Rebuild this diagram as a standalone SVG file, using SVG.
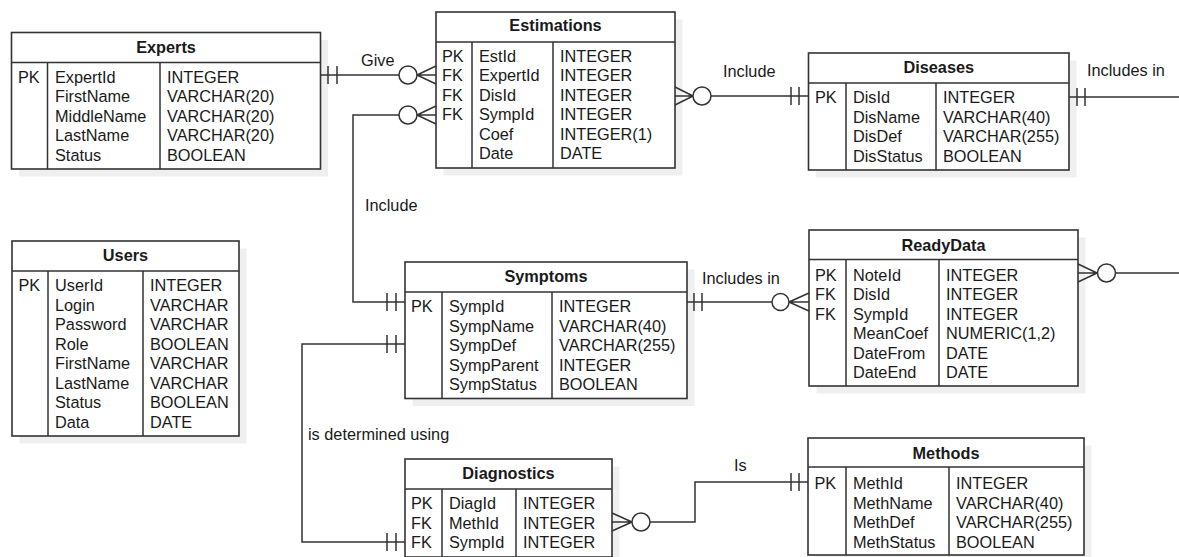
<svg xmlns="http://www.w3.org/2000/svg" width="1179" height="557" viewBox="0 0 1179 557">
<style>
  text { font-family: "Liberation Sans", Arial, sans-serif; font-size: 16.3px; fill: #1a1a1a; }
  .title { font-weight: bold; text-anchor: middle; }
  .shadow { fill: #efefef; stroke: none; }
  .box { fill: #ffffff; stroke: #333333; stroke-width: 1.6; }
  .ln { fill: none; stroke: #333333; stroke-width: 1.5; }
  .circ { fill: #ffffff; stroke: #333333; stroke-width: 1.5; }
</style>
<rect width="1179" height="557" fill="#ffffff"/>

<g id="experts">
  <rect class="shadow" x="19" y="40" width="309" height="136.5"/>
  <rect class="box" x="11.5" y="32.5" width="309" height="136.5"/>
  <path class="ln" d="M11.5,62.5 H320.5 M47.5,62.5 V169 M160,62.5 V169"/>
  <text class="title" x="166" y="52.5">Experts</text>
  <text x="18" y="82.5">PK</text>
  <text x="55" y="82.5">ExpertId</text>
  <text x="55" y="102">FirstName</text>
  <text x="55" y="121.5">MiddleName</text>
  <text x="55" y="141">LastName</text>
  <text x="55" y="160.5">Status</text>
  <text x="167" y="82.5">INTEGER</text>
  <text x="167" y="102">VARCHAR(20)</text>
  <text x="167" y="121.5">VARCHAR(20)</text>
  <text x="167" y="141">VARCHAR(20)</text>
  <text x="167" y="160.5">BOOLEAN</text>
</g>

<g id="estimations">
  <rect class="shadow" x="443.5" y="19.5" width="239" height="156"/>
  <rect class="box" x="436" y="12" width="239" height="156"/>
  <path class="ln" d="M436,42 H675 M472,42 V168 M553,42 V168"/>
  <text class="title" x="555.5" y="31">Estimations</text>
  <text x="442" y="61.5">PK</text>
  <text x="442" y="81">FK</text>
  <text x="442" y="100.5">FK</text>
  <text x="442" y="120">FK</text>
  <text x="479" y="61.5">EstId</text>
  <text x="479" y="81">ExpertId</text>
  <text x="479" y="100.5">DisId</text>
  <text x="479" y="120">SympId</text>
  <text x="479" y="139.5">Coef</text>
  <text x="479" y="159">Date</text>
  <text x="560" y="61.5">INTEGER</text>
  <text x="560" y="81">INTEGER</text>
  <text x="560" y="100.5">INTEGER</text>
  <text x="560" y="120">INTEGER</text>
  <text x="560" y="139.5">INTEGER(1)</text>
  <text x="560" y="159">DATE</text>
</g>

<g id="diseases">
  <rect class="shadow" x="816" y="60.5" width="260.5" height="117"/>
  <rect class="box" x="808.5" y="53" width="260.5" height="117"/>
  <path class="ln" d="M808.5,83 H1069 M846,83 V170 M936,83 V170"/>
  <text class="title" x="938.75" y="73">Diseases</text>
  <text x="815" y="103">PK</text>
  <text x="853" y="103">DisId</text>
  <text x="853" y="122.5">DisName</text>
  <text x="853" y="142">DisDef</text>
  <text x="853" y="161.5">DisStatus</text>
  <text x="943" y="103">INTEGER</text>
  <text x="943" y="122.5">VARCHAR(40)</text>
  <text x="943" y="142">VARCHAR(255)</text>
  <text x="943" y="161.5">BOOLEAN</text>
</g>

<g id="users">
  <rect class="shadow" x="19.5" y="248.5" width="227" height="195"/>
  <rect class="box" x="12" y="241" width="227" height="195"/>
  <path class="ln" d="M12,271 H239 M48,271 V436 M143,271 V436"/>
  <text class="title" x="125.5" y="261">Users</text>
  <text x="18.5" y="291">PK</text>
  <text x="55" y="291">UserId</text>
  <text x="55" y="310.5">Login</text>
  <text x="55" y="330">Password</text>
  <text x="55" y="349.5">Role</text>
  <text x="55" y="369">FirstName</text>
  <text x="55" y="388.5">LastName</text>
  <text x="55" y="408">Status</text>
  <text x="55" y="427.5">Data</text>
  <text x="150" y="291">INTEGER</text>
  <text x="150" y="310.5">VARCHAR</text>
  <text x="150" y="330">VARCHAR</text>
  <text x="150" y="349.5">BOOLEAN</text>
  <text x="150" y="369">VARCHAR</text>
  <text x="150" y="388.5">VARCHAR</text>
  <text x="150" y="408">BOOLEAN</text>
  <text x="150" y="427.5">DATE</text>
</g>

<g id="symptoms">
  <rect class="shadow" x="412.5" y="269.5" width="282" height="136.5"/>
  <rect class="box" x="405" y="262" width="282" height="136.5"/>
  <path class="ln" d="M405,292 H687 M442,292 V398.5 M552,292 V398.5"/>
  <text class="title" x="546" y="282">Symptoms</text>
  <text x="411" y="312">PK</text>
  <text x="449" y="312">SympId</text>
  <text x="449" y="331.5">SympName</text>
  <text x="449" y="351">SympDef</text>
  <text x="449" y="370.5">SympParent</text>
  <text x="449" y="390">SympStatus</text>
  <text x="559" y="312">INTEGER</text>
  <text x="559" y="331.5">VARCHAR(40)</text>
  <text x="559" y="351">VARCHAR(255)</text>
  <text x="559" y="370.5">INTEGER</text>
  <text x="559" y="390">BOOLEAN</text>
</g>

<g id="readydata">
  <rect class="shadow" x="816.5" y="237.5" width="269" height="156"/>
  <rect class="box" x="809" y="230" width="269" height="156"/>
  <path class="ln" d="M809,259.5 H1078 M846,259.5 V386 M939,259.5 V386"/>
  <text class="title" x="943.5" y="251">ReadyData</text>
  <text x="815" y="280.5">PK</text>
  <text x="815" y="300">FK</text>
  <text x="815" y="319.5">FK</text>
  <text x="853" y="280.5">NoteId</text>
  <text x="853" y="300">DisId</text>
  <text x="853" y="319.5">SympId</text>
  <text x="853" y="339">MeanCoef</text>
  <text x="853" y="358.5">DateFrom</text>
  <text x="853" y="378">DateEnd</text>
  <text x="946" y="280.5">INTEGER</text>
  <text x="946" y="300">INTEGER</text>
  <text x="946" y="319.5">INTEGER</text>
  <text x="946" y="339">NUMERIC(1,2)</text>
  <text x="946" y="358.5">DATE</text>
  <text x="946" y="378">DATE</text>
</g>

<g id="diagnostics">
  <rect class="shadow" x="412.5" y="466.5" width="207" height="98"/>
  <rect class="box" x="405" y="459" width="207" height="98"/>
  <path class="ln" d="M405,489 H612 M442,489 V557 M516,489 V557"/>
  <text class="title" x="508.5" y="479">Diagnostics</text>
  <text x="411" y="509">PK</text>
  <text x="411" y="528.5">FK</text>
  <text x="411" y="548">FK</text>
  <text x="449" y="509">DiagId</text>
  <text x="449" y="528.5">MethId</text>
  <text x="449" y="548">SympId</text>
  <text x="523" y="509">INTEGER</text>
  <text x="523" y="528.5">INTEGER</text>
  <text x="523" y="548">INTEGER</text>
</g>

<g id="methods">
  <rect class="shadow" x="815.5" y="445.5" width="276" height="117"/>
  <rect class="box" x="808" y="438" width="276" height="117"/>
  <path class="ln" d="M808,467 H1084 M846,467 V555 M949,467 V555"/>
  <text class="title" x="946" y="459">Methods</text>
  <text x="814.5" y="489">PK</text>
  <text x="853" y="489">MethId</text>
  <text x="853" y="508.5">MethName</text>
  <text x="853" y="528">MethDef</text>
  <text x="853" y="547.5">MethStatus</text>
  <text x="956" y="489">INTEGER</text>
  <text x="956" y="508.5">VARCHAR(40)</text>
  <text x="956" y="528">VARCHAR(255)</text>
  <text x="956" y="547.5">BOOLEAN</text>
</g>

<g id="connectors">
  <!-- Experts - Estimations (Give) -->
  <path class="ln" d="M320.5,75 H399 M328,66 V84 M337,66 V84 M417,75 L436,66 M417,75 H436 M417,75 L436,84"/>
  <circle class="circ" cx="408" cy="75" r="9"/>
  <text x="361" y="66">Give</text>

  <!-- Estimations SympId - Symptoms (Include) -->
  <path class="ln" d="M399,115 H353 V302 H405 M387,293 V311 M396,293 V311 M417,115 L436,106 M417,115 H436 M417,115 L436,124"/>
  <circle class="circ" cx="408" cy="115" r="9"/>
  <text x="365" y="211">Include</text>

  <!-- Estimations DisId - Diseases (Include) -->
  <path class="ln" d="M711,96 H808.5 M791,87 V105 M799,87 V105 M675,87 L693,96 M675,96 H693 M675,105 L693,96"/>
  <circle class="circ" cx="702" cy="96" r="9"/>
  <text x="723" y="77">Include</text>

  <!-- Diseases - off right (Includes in) -->
  <path class="ln" d="M1069,97 H1179 M1077,88 V106 M1085,88 V106"/>
  <text x="1087" y="76">Includes in</text>

  <!-- Symptoms - ReadyData (Includes in) -->
  <path class="ln" d="M687,302 H772 M694,293 V311 M702,293 V311 M789,302 L809,293 M789,302 H809 M789,302 L809,311"/>
  <circle class="circ" cx="780.5" cy="302" r="8.5"/>
  <text x="702" y="284">Includes in</text>

  <!-- ReadyData - off right -->
  <path class="ln" d="M1115.5,273 H1179 M1078,264 L1097,273 M1078,273 H1097 M1078,282 L1097,273"/>
  <circle class="circ" cx="1106.5" cy="273" r="9"/>

  <!-- Symptoms - Diagnostics (is determined using) -->
  <path class="ln" d="M405,344 H302 V542 H405 M387,335 V353 M396,335 V353 M387,533 V551 M396,533 V551"/>
  <text x="308" y="440">is determined using</text>

  <!-- Diagnostics - Methods (Is) -->
  <path class="ln" d="M650,522 H695 V482 H808 M791,473 V491 M799,473 V491 M612,513 L632,522 M612,522 H632 M612,531 L632,522"/>
  <circle class="circ" cx="641" cy="522" r="9"/>
  <text x="734" y="471">Is</text>
</g>
</svg>
